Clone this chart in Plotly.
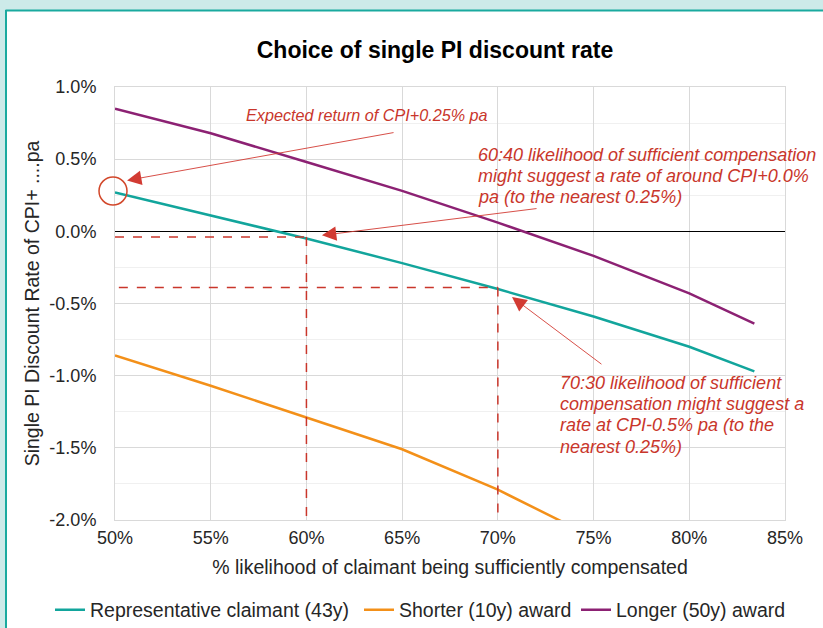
import plotly.graph_objects as go

# ---- data ----
likelihood = [0.50, 0.55, 0.60, 0.65, 0.70, 0.75, 0.80, 0.834]
representative = [0.0027, 0.0011, -0.0005, -0.0022, -0.0040, -0.0059, -0.0080, -0.0097]
longer = [0.0085, 0.0068, 0.0048, 0.0028, 0.0006, -0.0017, -0.0043, -0.0064]
shorter_x = [0.50, 0.55, 0.60, 0.65, 0.70, 0.75]
shorter = [-0.0086, -0.0107, -0.0129, -0.0151, -0.0179, -0.0212]

series_names = ["Representative claimant (43y)", "Shorter (10y) award", "Longer (50y) award"]
colors = ["#12A59C", "#F39019", "#8C2173"]

x_ticks = [0.50, 0.55, 0.60, 0.65, 0.70, 0.75, 0.80, 0.85]
x_ticktext = ["50%", "55%", "60%", "65%", "70%", "75%", "80%", "85%"]
y_ticks = [0.01, 0.005, 0.0, -0.005, -0.01, -0.015, -0.02]
y_ticktext = ["1.0%", "0.5%", "0.0%", "-0.5%", "-1.0%", "-1.5%", "-2.0%"]

# reference points (60:40 and 70:30)
ref_x = [0.60, 0.70]
ref_y = [-0.0004, -0.0039]
ref_start_x = [0.50, 0.502]

# arrows: (head x, head y, tail x, tail y)
arrows = [
    (0.5063, 0.00353, 0.6463, 0.00686),
    (0.6081, -0.00028, 0.7210, 0.00159),
    (0.7074, -0.00455, 0.7549, -0.00928),
]

note_expected = "Expected return of CPI+0.25% pa"
note_6040 = ["60:40 likelihood of sufficient compensation",
             "might suggest a rate of around CPI+0.0%",
             "pa (to the nearest 0.25%)"]
note_7030 = ["70:30 likelihood of sufficient",
             "compensation might suggest a",
             "rate at CPI-0.5% pa (to the",
             "nearest 0.25%)"]

RED = "#C9362B"
FONT = "Liberation Sans, Arial, sans-serif"
TXT = "#262626"
W, H = 823, 628

legend_ids = ["legend", "legend2", "legend3"]
legend_left_px = [50, 359, 576]

fig = go.Figure()
fig.add_trace(go.Scatter(x=likelihood, y=representative, mode="lines", name=series_names[0],
                         line=dict(color=colors[0], width=2.5), legend=legend_ids[0]))
fig.add_trace(go.Scatter(x=shorter_x, y=shorter, mode="lines", name=series_names[1],
                         line=dict(color=colors[1], width=2.5), legend=legend_ids[1]))
fig.add_trace(go.Scatter(x=likelihood, y=longer, mode="lines", name=series_names[2],
                         line=dict(color=colors[2], width=2.5), legend=legend_ids[2]))


def px_x(p):
    return (p - 115) / 670


def px_y(p):
    return (520 - p) / 433


shapes = []
# dashed reference lines
for sx, rx, ry in zip(ref_start_x, ref_x, ref_y):
    shapes.append(dict(type="line", xref="x", yref="y", x0=sx, x1=rx, y0=ry, y1=ry,
                       line=dict(color=RED, width=1.5, dash="dash")))
    shapes.append(dict(type="line", xref="x", yref="y", x0=rx, x1=rx, y0=ry, y1=-0.02,
                       line=dict(color=RED, width=1.5, dash="dash")))

# circle marking the expected return point (pixel-sized, paper anchored so not clipped)
shapes.append(dict(type="circle", xref="paper", yref="paper",
                   xsizemode="pixel", ysizemode="pixel",
                   xanchor=px_x(113), yanchor=px_y(191),
                   x0=-14, x1=14, y0=-14, y1=14,
                   line=dict(color="#D2472A", width=1.5)))

# slide frame: teal strip at top and left
shapes.append(dict(type="rect", xref="paper", yref="paper", x0=px_x(0), x1=px_x(823),
                   y0=px_y(0), y1=px_y(10), fillcolor="#CDEAE9", line=dict(width=0), layer="below"))
shapes.append(dict(type="rect", xref="paper", yref="paper", x0=px_x(0), x1=px_x(5),
                   y0=px_y(0), y1=px_y(628), fillcolor="#CDEAE9", line=dict(width=0), layer="below"))
shapes.append(dict(type="line", xref="paper", yref="paper", x0=px_x(5.5), x1=px_x(823),
                   y0=px_y(10.5), y1=px_y(10.5), line=dict(color="#1AAA9F", width=2)))
shapes.append(dict(type="line", xref="paper", yref="paper", x0=px_x(6), x1=px_x(6),
                   y0=px_y(10), y1=px_y(628), line=dict(color="#1AAA9F", width=2)))

annotations = []
for hx, hy, tx, ty in arrows:
    annotations.append(dict(x=hx, y=hy, ax=tx, ay=ty, xref="x", yref="y", axref="x", ayref="y",
                            text="", showarrow=True, arrowhead=2, arrowsize=3.2, arrowwidth=0.9,
                            arrowcolor="#D23B33", standoff=0, startstandoff=0))

annotations.append(dict(xref="paper", yref="paper", x=px_x(244), y=px_y(115),
                        xanchor="left", yanchor="middle", showarrow=False,
                        text="<i>" + note_expected + "</i>",
                        font=dict(family=FONT, size=16.2, color=RED)))
for i, line in enumerate(note_6040):
    annotations.append(dict(xref="paper", yref="paper", x=px_x(476), y=px_y(155 + 21 * i),
                            xanchor="left", yanchor="middle", showarrow=False,
                            text="<i>" + line + "</i>",
                            font=dict(family=FONT, size=18, color=RED)))
for i, line in enumerate(note_7030):
    annotations.append(dict(xref="paper", yref="paper", x=px_x(558), y=px_y(383 + 21.2 * i),
                            xanchor="left", yanchor="middle", showarrow=False,
                            text="<i>" + line + "</i>",
                            font=dict(family=FONT, size=18, color=RED)))

legends = {}
for lid, lx in zip(legend_ids, legend_left_px):
    legends[lid] = dict(orientation="h", xref="container", yref="container",
                        x=lx / W, xanchor="left", y=1 - 610 / H, yanchor="middle",
                        font=dict(family=FONT, size=19.5, color=TXT), itemwidth=30,
                        bgcolor="rgba(0,0,0,0)")

fig.update_layout(
    width=W, height=H,
    margin=dict(l=115, r=38, t=87, b=108, autoexpand=False),
    paper_bgcolor="white", plot_bgcolor="white",
    font=dict(family=FONT, size=18, color=TXT),
    title=dict(text="<b>Choice of single PI discount rate</b>", x=435 / W, xanchor="center",
               y=1 - 50 / H, yanchor="middle", xref="container", yref="container",
               font=dict(family=FONT, size=23, color="#000000")),
    showlegend=True,
    shapes=shapes,
    annotations=annotations,
    **legends,
)

fig.update_xaxes(range=[0.5, 0.85], tickvals=x_ticks, ticktext=x_ticktext,
                 tickfont=dict(size=18, color=TXT), automargin=False,
                 showgrid=True, gridcolor="#D9D9D9", gridwidth=1,
                 showline=True, linecolor="#D9D9D9", mirror=True,
                 zeroline=False, ticks="", ticklabelstandoff=1,
                 title=dict(text="% likelihood of claimant being sufficiently compensated",
                            font=dict(family=FONT, size=19.5, color=TXT), standoff=13))
fig.update_yaxes(range=[-0.02, 0.01], tickvals=y_ticks, ticktext=y_ticktext,
                 tickfont=dict(size=18, color=TXT), automargin=False,
                 showgrid=True, gridcolor="#D9D9D9", gridwidth=1,
                 minor=dict(dtick=0.0025, tick0=0, showgrid=True, gridcolor="#F0F0F0"),
                 showline=True, linecolor="#D9D9D9", mirror=True,
                 zeroline=True, zerolinecolor="#000000", zerolinewidth=1.3,
                 ticks="", ticklabelstandoff=14,
                 title=dict(text="Single PI Discount Rate of CPI+ ....pa",
                            font=dict(family=FONT, size=19.5, color=TXT), standoff=4))

fig.write_html("out.html", config={"displayModeBar": False},
               post_script="document.body.style.margin='0';document.body.style.overflow='hidden';")
